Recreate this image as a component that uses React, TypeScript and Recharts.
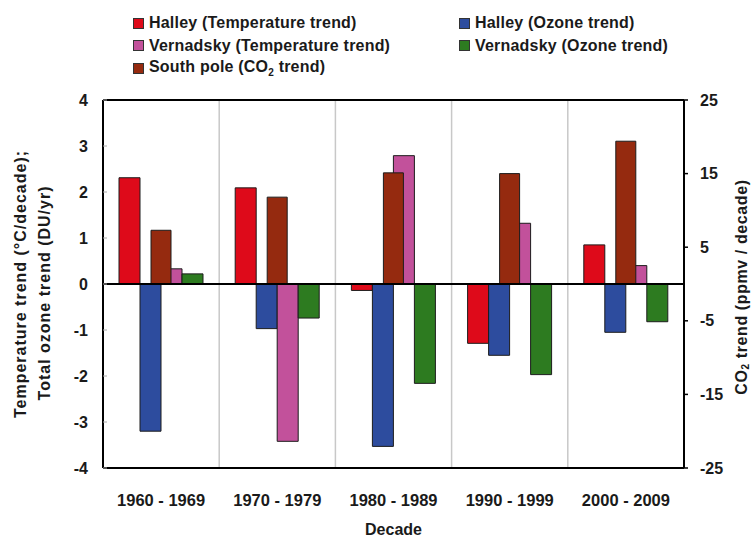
import { BarChart, Bar, XAxis, YAxis, CartesianGrid, ReferenceLine } from "recharts"

const decades = ["1960 - 1969", "1970 - 1979", "1980 - 1989", "1990 - 1999", "2000 - 2009"]
const halleyTemp = [2.31, 2.09, -0.14, -1.29, 0.85]
const halleyOzone = [-3.2, -0.97, -3.53, -1.55, -1.05]
const vernadskyTemp = [0.33, -3.42, 2.79, 1.32, 0.4]
const vernadskyOzone = [0.22, -0.74, -2.16, -1.97, -0.82]
const southPoleCO2 = [7.3, 11.8, 15.1, 15.0, 19.4]

const leftTicks = [-4, -3, -2, -1, 0, 1, 2, 3, 4]
const rightTicks = [-25, -15, -5, 5, 15, 25]

const FONT = "'Liberation Sans', Arial, sans-serif"

const colors = {
  halleyTemp: "#DE0A1A",
  halleyOzone: "#2D4C9E",
  co2: "#952A0F",
  vernadskyTemp: "#C2519B",
  vernadskyOzone: "#2D7B20",
}

const rows = decades.map((decade, i) => ({
  decade,
  halleyTemp: halleyTemp[i],
  halleyOzone: halleyOzone[i],
  vernadskyTemp: vernadskyTemp[i],
  vernadskyOzone: vernadskyOzone[i],
  co2: southPoleCO2[i],
}))

const legendItems = [
  { key: "halleyTemp", label: <>Halley (Temperature trend)</>, col: 0, row: 0 },
  { key: "halleyOzone", label: <>Halley (Ozone trend)</>, col: 1, row: 0 },
  { key: "vernadskyTemp", label: <>Vernadsky (Temperature trend)</>, col: 0, row: 1 },
  { key: "vernadskyOzone", label: <>Vernadsky (Ozone trend)</>, col: 1, row: 1 },
  { key: "co2", label: <>South pole (CO<sub style={{ fontSize: 10 }}>2</sub> trend)</>, col: 0, row: 2 },
]

function ChartLegend() {
  const colX = [133, 459]
  return (
    <div style={{ position: "absolute", left: 0, top: 0, width: 752, height: 90, fontFamily: FONT, pointerEvents: "none" }}>
      {legendItems.map((it) => (
        <div
          key={it.key}
          style={{
            position: "absolute",
            left: colX[it.col],
            top: 13 + it.row * 22.5,
            height: 20,
            display: "flex",
            alignItems: "center",
            fontWeight: "bold",
            fontSize: 16,
            color: "#1a1a1a",
            whiteSpace: "nowrap",
          }}
        >
          <span
            style={{
              width: 9,
              height: 9,
              background: (colors as any)[it.key],
              border: "1px solid #333",
              marginRight: 5,
            }}
          />
          <span style={{ letterSpacing: 0.2 }}>{it.label}</span>
        </div>
      ))}
    </div>
  )
}

const LeftTitle = (props: any) => {
  const { viewBox } = props
  const cy = viewBox.y + viewBox.height / 2
  return (
    <g fontFamily={FONT} fontWeight="bold" fontSize={16} fill="#1a1a1a">
      <text transform={`translate(20, ${cy}) rotate(-90)`} textAnchor="middle" dominantBaseline="central" letterSpacing={1}>
        Temperature trend  (°C/decade);
      </text>
      <text transform={`translate(44, ${cy + 9}) rotate(-90)`} textAnchor="middle" dominantBaseline="central" letterSpacing={1}>
        Total ozone trend (DU/yr)
      </text>
    </g>
  )
}

const RightTitle = (props: any) => {
  const { viewBox } = props
  const cy = viewBox.y + viewBox.height / 2
  return (
    <text
      transform={`translate(741, ${cy + 3}) rotate(-90)`}
      textAnchor="middle"
      dominantBaseline="central"
      fontFamily={FONT}
      fontWeight="bold"
      fontSize={16}
      fill="#1a1a1a"
      letterSpacing={0.6}
    >
      CO<tspan fontSize={10} dy={4}>2</tspan>
      <tspan dy={-4}> trend  (ppmv / decade)</tspan>
    </text>
  )
}

const barStroke = { stroke: "#1c1c1c", strokeWidth: 1 }

export default function App() {
  return (
    <div style={{ position: "absolute", left: 0, top: 0, width: 752, height: 539, background: "#fff" }}>
      <BarChart
        width={752}
        height={539}
        data={rows}
        margin={{ top: 99, right: 0, bottom: 0, left: 0 }}
        barGap={0}
      >
        <CartesianGrid
          xAxisId="main"
          yAxisId="left"
          horizontal={false}
          stroke="#c8c8c8"
          strokeWidth={1.5}
          verticalCoordinatesGenerator={({ offset }: any) =>
            [1, 2, 3, 4].map((i) => offset.left + (i * offset.width) / decades.length)
          }
        />
        <XAxis
          xAxisId="main"
          dataKey="decade"
          height={71}
          tickLine={false}
          tickMargin={20}
          axisLine={{ stroke: "#000", strokeWidth: 2 }}
          tick={{ fontFamily: FONT, fontWeight: "bold", fontSize: 16.5, fill: "#1a1a1a" }}
          interval={0}
          label={{
            value: "Decade",
            position: "insideBottom",
            offset: 4,
            style: { fontFamily: FONT, fontWeight: "bold", fontSize: 16, fill: "#1a1a1a" },
          }}
        />
        <XAxis
          xAxisId="co2"
          dataKey="decade"
          orientation="top"
          height={1}
          tick={false}
          tickLine={false}
          axisLine={{ stroke: "#000", strokeWidth: 2 }}
        />
        <YAxis
          yAxisId="left"
          width={103}
          domain={[-4, 4]}
          ticks={leftTicks}
          interval={0}
          tickSize={-4}
          tickMargin={19}
          tickLine={{ stroke: "#aaa" }}
          axisLine={{ stroke: "#000", strokeWidth: 2 }}
          tick={{ fontFamily: FONT, fontWeight: "bold", fontSize: 16, fill: "#1a1a1a" }}
          label={<LeftTitle />}
        />
        <YAxis
          yAxisId="right"
          orientation="right"
          width={68}
          domain={[-25, 25]}
          ticks={rightTicks}
          interval={0}
          tickSize={4}
          tickMargin={12}
          tickLine={{ stroke: "#000", strokeWidth: 1.5 }}
          axisLine={{ stroke: "#000", strokeWidth: 2 }}
          tick={{ fontFamily: FONT, fontWeight: "bold", fontSize: 16, fill: "#1a1a1a" }}
          label={<RightTitle />}
        />
        <Bar xAxisId="main" yAxisId="left" dataKey="halleyTemp" name="Halley (Temperature trend)" fill={colors.halleyTemp} barSize={21} {...barStroke} isAnimationActive={false} />
        <Bar xAxisId="main" yAxisId="left" dataKey="halleyOzone" name="Halley (Ozone trend)" fill={colors.halleyOzone} barSize={21} {...barStroke} isAnimationActive={false} />
        <Bar xAxisId="main" yAxisId="left" dataKey="vernadskyTemp" name="Vernadsky (Temperature trend)" fill={colors.vernadskyTemp} barSize={21} {...barStroke} isAnimationActive={false} />
        <Bar xAxisId="main" yAxisId="left" dataKey="vernadskyOzone" name="Vernadsky (Ozone trend)" fill={colors.vernadskyOzone} barSize={21} {...barStroke} isAnimationActive={false} />
        <Bar xAxisId="co2" yAxisId="right" dataKey="co2" name="South pole (CO2 trend)" fill={colors.co2} barSize={20} {...barStroke} isAnimationActive={false} />
        <ReferenceLine xAxisId="main" yAxisId="left" y={0} stroke="#000" strokeWidth={2} />
        <ReferenceLine xAxisId="main" yAxisId="left" y={4} stroke="#000" strokeWidth={2} ifOverflow="visible" />
      </BarChart>
      <ChartLegend />
    </div>
  )
}
